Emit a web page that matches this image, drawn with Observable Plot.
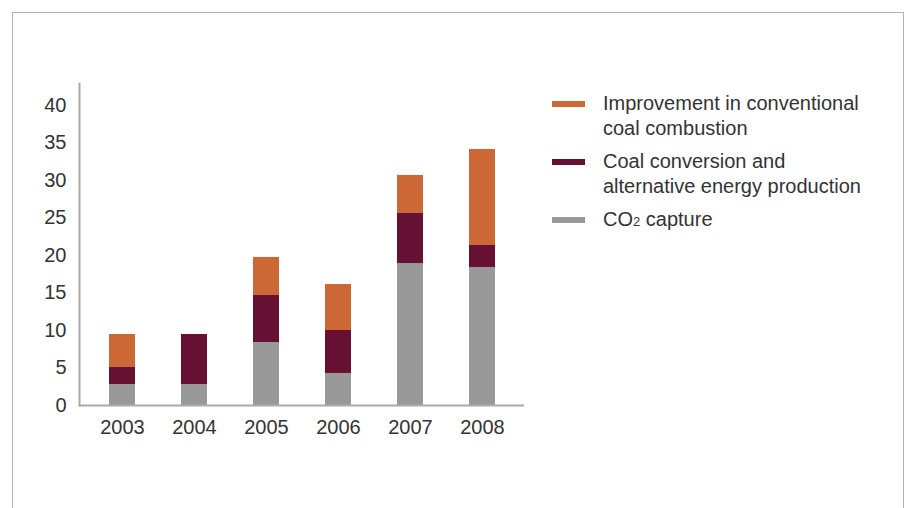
<!DOCTYPE html>
<html>
<head>
<meta charset="utf-8">
<script src="https://cdn.jsdelivr.net/npm/d3@7"></script>
<script src="https://cdn.jsdelivr.net/npm/@observablehq/plot@0.6"></script>
<style>
  html, body { margin: 0; padding: 0; background: #fff; }
  body { width: 905px; height: 508px; position: relative; overflow: hidden; font-family: "Liberation Sans", Arial, sans-serif; color: #333; }
  #frame { position: absolute; left: 12px; top: 12px; width: 890px; height: 520px; border: 1px solid #b3b3b3; border-bottom: none; }
  #chart { position: absolute; left: 0; top: 0; }
  #legend { position: absolute; left: 552px; top: 91px; font-size: 20px; line-height: 25px; color: #333; }
  .item { position: relative; padding-left: 51px; margin-bottom: 8px; white-space: nowrap; }
  .sw { position: absolute; left: 0; top: 10px; width: 33px; height: 6px; }
  .sub { font-size: 13px; }
</style>
</head>
<body>
<div id="frame"></div>
<div id="chart"></div>
<div id="legend"></div>
<script>
const years = ["2003", "2004", "2005", "2006", "2007", "2008"];
const co2Capture = [2.8, 2.8, 8.4, 4.27, 18.93, 18.4];
const coalConversion = [2.27, 6.67, 6.27, 5.73, 6.67, 2.93];
const improvement = [4.4, 0, 5.07, 6.13, 5.07, 12.8];
const seriesNames = ["CO2 capture", "Coal conversion and alternative energy production", "Improvement in conventional coal combustion"];
const seriesColors = ["#999999", "#661133", "#cc6835"];
const yTicks = [0, 5, 10, 15, 20, 25, 30, 35, 40];

const seriesValues = [co2Capture, coalConversion, improvement];
const data = [];
seriesNames.forEach((s, si) => {
  years.forEach((yr, i) => data.push({year: yr, series: s, value: seriesValues[si][i]}));
});

const chart = Plot.plot({
  width: 905,
  height: 508,
  marginLeft: 79,
  marginRight: 381,
  marginTop: 83,
  marginBottom: 103,
  style: {fontFamily: "Liberation Sans, Arial, sans-serif", fontSize: "20px", color: "#333", background: "transparent"},
  x: {domain: years, paddingInner: 0.64, paddingOuter: 0.38, label: null, tickSize: 0, tickPadding: 14},
  y: {domain: [0, 42.93], ticks: yTicks, label: null, tickSize: 0, tickPadding: 13},
  color: {domain: seriesNames, range: seriesColors},
  marks: [
    Plot.barY(data, {x: "year", y: "value", fill: "series", order: seriesNames}),
    Plot.frame({anchor: "left", stroke: "#aaa", strokeWidth: 2}),
    Plot.ruleY([0], {stroke: "#aaa", strokeWidth: 2})
  ]
});
document.getElementById("chart").appendChild(chart);

const legendItems = [2, 1, 0];
const legendLabels = [
  "CO<span class='sub'>2</span> capture",
  "Coal conversion and<br>alternative energy production",
  "Improvement in conventional<br>coal combustion"
];
const legend = document.getElementById("legend");
legendItems.forEach(i => {
  const div = document.createElement("div");
  div.className = "item";
  div.innerHTML = `<span class="sw" style="background:${seriesColors[i]}"></span>${legendLabels[i]}`;
  legend.appendChild(div);
});
</script>
</body>
</html>
